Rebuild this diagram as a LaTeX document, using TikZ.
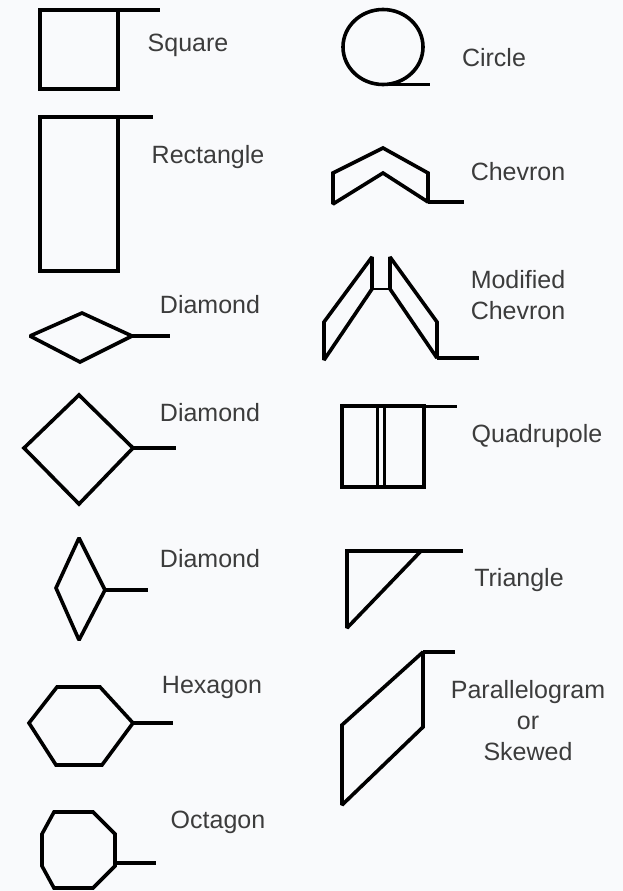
\documentclass[tikz,border=0pt]{standalone}
\usepackage{fontspec}
\setmainfont{Liberation Sans}
\definecolor{bg}{RGB}{249,250,252}
\definecolor{txt}{RGB}{60,60,60}
\begin{document}
\begin{tikzpicture}[x=1pt,y=-1pt,
  sym/.style={line width=3.6pt,line join=miter,miter limit=2,black},
  lead/.style={line width=3.6pt,black},
  lbl/.style={text=txt,inner sep=0pt,align=center,font=\fontsize{25}{31}\selectfont}]
\fill[bg] (0,0) rectangle (623,891);
\useasboundingbox (0,0) rectangle (623,891);
% Square
\draw[sym] (118,10) -- (40,10) -- (40,89) -- (118,89) -- (118,10);
\draw[lead] (118,10) -- (160,10);
\node[lbl] (square) at (188,45) {Square};
% Rectangle
\draw[sym] (118,117) -- (40,117) -- (40,271) -- (118,271) -- (118,117);
\draw[lead] (118,117) -- (153,117);
\node[lbl] (rect) at (208,157) {Rectangle};
% Diamond 1
\draw[sym] (30,336) -- (82,313) -- (132,336) -- (80,362) -- cycle;
\draw[lead] (132,336) -- (170,336);
\node[lbl] (dia1) at (210,305) {Diamond};
% Diamond 2
\draw[sym] (24,448) -- (79,395) -- (133,448) -- (79,504) -- cycle;
\draw[lead] (133,448) -- (176,448);
\node[lbl] (dia2) at (210,413) {Diamond};
% Diamond 3
\draw[sym] (56,588) -- (79,538) -- (105,590) -- (79,640) -- cycle;
\draw[lead] (105,590) -- (148,590);
\node[lbl] (dia3) at (210,559) {Diamond};
% Hexagon
\draw[sym] (29,723) -- (57,687) -- (100,687) -- (133,723) -- (102,765) -- (56,765) -- cycle;
\draw[lead] (133,723) -- (173,723);
\node[lbl] (hex) at (212,687) {Hexagon};
% Octagon
\draw[sym] (54,812) -- (93,812) -- (115,834) -- (115,866) -- (93,888) -- (54,888) -- (42,866) -- (42,834) -- cycle;
\draw[lead] (115,863) -- (156,863);
\node[lbl] (oct) at (218,822) {Octagon};
% Circle
\draw[sym] (383,47) ellipse [x radius=40, y radius=37.5];
\draw[lead] (383,84.5) -- (430,84.5);
\node[lbl] (circ) at (494,58) {Circle};
% Chevron
\draw[sym] (333,204) -- (333,173) -- (383,148) -- (428,173) -- (428,202) -- (383,173) -- cycle;
\draw[lead] (428,202) -- (464,202);
\node[lbl] (chev) at (518,172) {Chevron};
% Modified Chevron
\draw[sym] (324,360) -- (324,322) -- (372,257) -- (372,289) -- cycle;
\draw[sym] (390,257) -- (437,322) -- (437,358) -- (390,289) -- cycle;
\draw[line width=2.5pt] (372,289) -- (390,289);
\draw[lead] (437,358) -- (479,358);
\node[lbl] (mchev) at (518,295) {Modified\\Chevron};
% Quadrupole
\draw[sym] (342,406) rectangle (424,487);
\draw[line width=3pt] (377,406) -- (377,487);
\draw[line width=3pt] (384,406) -- (384,487);
\draw[line width=3pt] (424,406) -- (457,406);
\node[lbl] (quad) at (537,436) {Quadrupole};
% Triangle
\draw[sym] (347,551) -- (347,628) -- (421,551) -- cycle;
\draw[lead] (421,551) -- (463,551);
\node[lbl] (tri) at (519,580) {Triangle};
% Parallelogram
\draw[sym] (423,652) -- (342,725) -- (342,805) -- (423,727) -- cycle;
\draw[lead] (423,652) -- (455,652);
\node[lbl] (para) at (528,721) {Parallelogram\\or\\Skewed};
\end{tikzpicture}
\end{document}
